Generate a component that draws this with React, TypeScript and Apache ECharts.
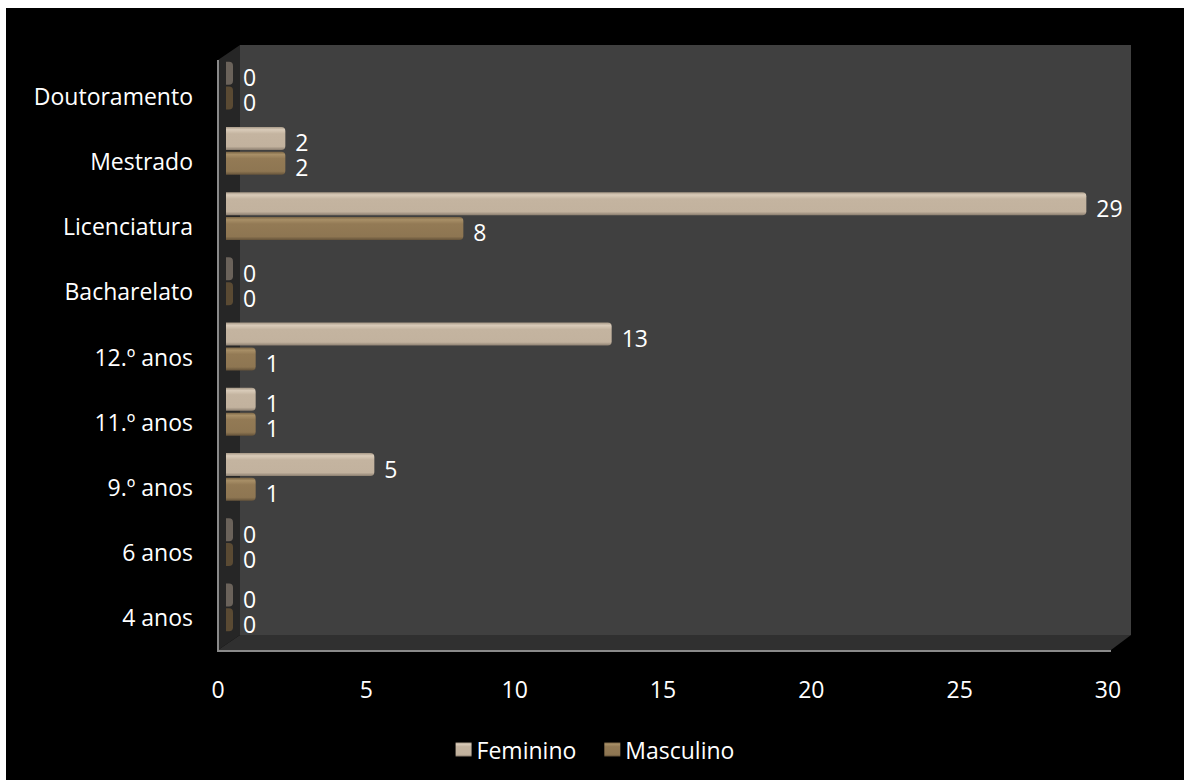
import React, { useEffect, useRef } from "react";
import * as echarts from "echarts";

const categories = ["4 anos", "6 anos", "9.º anos", "11.º anos", "12.º anos", "Bacharelato", "Licenciatura", "Mestrado", "Doutoramento"];
const feminino = [0, 0, 5, 1, 13, 0, 29, 2, 0];
const masculino = [0, 0, 1, 1, 1, 0, 8, 2, 0];
const xTicks = { min: 0, max: 30, interval: 5 };

const FONT = "'Open Sans', 'Noto Sans', sans-serif";
const FS = 23;

const femGrad = new echarts.graphic.LinearGradient(0, 0, 0, 1, [
  { offset: 0, color: "#a69886" },
  { offset: 0.12, color: "#d9cbb9" },
  { offset: 0.3, color: "#c4b4a0" },
  { offset: 0.85, color: "#c2b29e" },
  { offset: 1, color: "#8c7f70" },
]);
const mascGrad = new echarts.graphic.LinearGradient(0, 0, 0, 1, [
  { offset: 0, color: "#7a6545" },
  { offset: 0.12, color: "#a88f67" },
  { offset: 0.3, color: "#937a55" },
  { offset: 0.85, color: "#8e7652" },
  { offset: 1, color: "#65533a" },
]);

function toData(arr: number[], zeroColor: string) {
  return arr.map((v) =>
    v === 0 ? { value: v, itemStyle: { color: zeroColor } } : { value: v }
  );
}

export default function App() {
  const ref = useRef<HTMLDivElement>(null);
  useEffect(() => {
    if (!ref.current) return;
    const chart = echarts.init(ref.current, null, { renderer: "svg" });
    const labelStyle = {
      show: true,
      position: "right" as const,
      distance: 10,
      offset: [0, 4],
      color: "#ffffff",
      fontFamily: FONT,
      fontSize: FS,
      lineHeight: 22,
    };
    chart.setOption({
      animation: false,
      backgroundColor: "#000000",
      textStyle: { fontFamily: FONT },
      legend: {
        data: ["Feminino", "Masculino"],
        bottom: 14,
        left: "center",
        itemWidth: 16,
        itemHeight: 14,
        itemGap: 28,
        textStyle: { color: "#ffffff", fontSize: FS, fontFamily: FONT },
        icon: "rect",
      },
      grid: [
        { left: 212, top: 55, width: 890, height: 587, containLabel: false },
        { left: 220, top: 45, width: 890, height: 587, containLabel: false },
      ],
      xAxis: [
        {
          type: "value",
          gridIndex: 0,
          ...xTicks,
          axisLine: { show: false },
          axisTick: { show: false },
          splitLine: { show: false },
          axisLabel: { color: "#ffffff", fontSize: FS, fontFamily: FONT, margin: 27 },
        },
        {
          type: "value",
          gridIndex: 1,
          ...xTicks,
          show: false,
        },
      ],
      yAxis: [
        {
          type: "category",
          gridIndex: 0,
          data: categories,
          axisLine: { show: false },
          axisTick: { show: false },
          axisLabel: { color: "#ffffff", fontSize: FS, fontFamily: FONT, margin: 25 },
        },
        {
          type: "category",
          gridIndex: 1,
          data: categories,
          show: false,
        },
      ],
      graphic: [
        { type: "rect", z: -10, shape: { x: 234, y: 37, width: 891, height: 590 }, style: { fill: "#404040" } },
        { type: "polygon", z: -10, shape: { points: [[212, 52], [234, 37], [234, 627], [212, 642]] }, style: { fill: "#262626" } },
        { type: "polygon", z: -10, shape: { points: [[212, 642], [234, 627], [1125, 627], [1105, 642]] }, style: { fill: "#303030" } },
        { type: "line", z: -9, shape: { x1: 212, y1: 52, x2: 212, y2: 643 }, style: { stroke: "#8a8a8a", lineWidth: 2 } },
        { type: "line", z: -9, shape: { x1: 211, y1: 643, x2: 1105, y2: 643 }, style: { stroke: "#8a8a8a", lineWidth: 2 } },
      ],
      series: [
        {
          name: "Feminino",
          type: "bar",
          xAxisIndex: 1,
          yAxisIndex: 1,
          data: toData(feminino, "#6a625a"),
          barWidth: 23,
          barGap: "8%",
          barMinHeight: 7,
          itemStyle: { color: femGrad, borderRadius: [0, 4, 4, 0] },
          label: labelStyle,
        },
        {
          name: "Masculino",
          type: "bar",
          xAxisIndex: 1,
          yAxisIndex: 1,
          data: toData(masculino, "#5a4a33"),
          barWidth: 23,
          barGap: "8%",
          barMinHeight: 7,
          itemStyle: { color: mascGrad, borderRadius: [0, 4, 4, 0] },
          label: labelStyle,
        },
      ],
    });
    return () => chart.dispose();
  }, []);
  return (
    <div
      ref={ref}
      style={{ position: "absolute", left: 6, top: 8, width: 1178, height: 772, background: "#000" }}
    />
  );
}
